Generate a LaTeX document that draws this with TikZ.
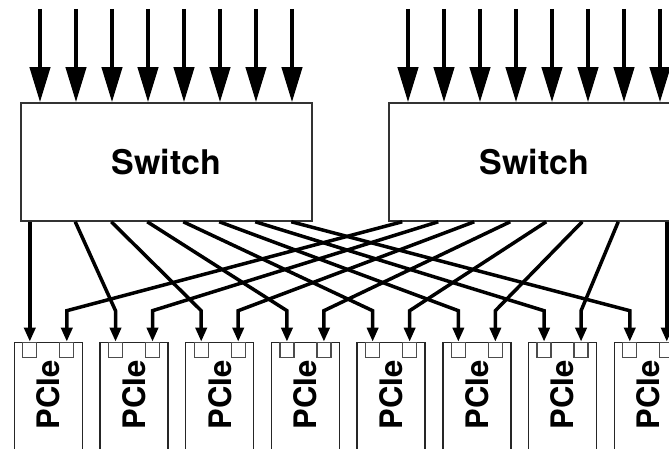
\documentclass[tikz,border=0pt]{standalone}
\usepackage{fontspec}
\newfontfamily\heros{TeX Gyre Heros}
\usetikzlibrary{arrows.meta,calc,positioning}

\begin{document}
\begin{tikzpicture}[x=1pt,y=-1pt,
  switchbox/.style={draw=black!80,line width=1.5pt,minimum width=291pt,minimum height=118pt,inner sep=0pt,
    font=\heros\bfseries\fontsize{34}{40}\selectfont},
  card/.style={draw=black!85,line width=1.5pt,minimum width=68pt,minimum height=130pt,inner sep=0pt},
  port/.style={draw=black!70,line width=1.2pt,minimum width=14pt,minimum height=15pt,inner sep=0pt},
  cardlabel/.style={rotate=90,inner sep=0pt,font=\heros\bfseries\fontsize{31}{36}\selectfont},
  feed/.style={line width=4pt,-{Triangle[length=35pt,width=20pt]}},
  link/.style={line width=3.5pt,-{Triangle[length=14pt,width=11pt]}}]
  \useasboundingbox (0,0) rectangle (669,449);
  \clip (0,0) rectangle (669,449);
  % switches
  \node[switchbox] (swA) at (166.5,162) {Switch};
  \node[switchbox] (swB) at (534.5,162) {Switch};
  % inputs
  \foreach \i in {0,...,7} {
    \coordinate (inA\i) at (40+36*\i,9);
    \coordinate (inB\i) at (408+36*\i,9);
    \draw[feed] (inA\i) -- (inA\i |- swA.north);
    \draw[feed] (inB\i) -- (inB\i |- swB.north);
  }
  % cards with two ports each
  \foreach \k in {0,...,7} {
    \node[card,anchor=north] (card\k) at (48.3+85.71*\k,341.7) {};
    \node[port,anchor=north] (pl\k) at ($(card\k.north)+(-18.5,0)$) {};
    \node[port,anchor=north] (pr\k) at ($(card\k.north)+(18.5,0)$) {};
    \node[cardlabel] (lbl\k) at ($(card\k.north)+(0,53)$) {PCIe};
    \coordinate (bl\k) at ($(pl\k.north)+(0,-31)$);
    \coordinate (br\k) at ($(pr\k.north)+(0,-31)$);
  }
  % left switch -> left ports
  \draw[link] (pl0.north |- swA.south) -- (pl0.north);
  \foreach \k in {1,...,7}
    \draw[link] ($(swA.south west)+(19+36*\k,0)$) -- (bl\k) -- (pl\k.north);
  % right switch -> right ports
  \foreach \k in {0,...,6}
    \draw[link] ($(swB.south west)+(14+36*\k,0)$) -- (br\k) -- (pr\k.north);
  \draw[link] (pr7.north |- swB.south) -- (pr7.north);
\end{tikzpicture}
\end{document}
